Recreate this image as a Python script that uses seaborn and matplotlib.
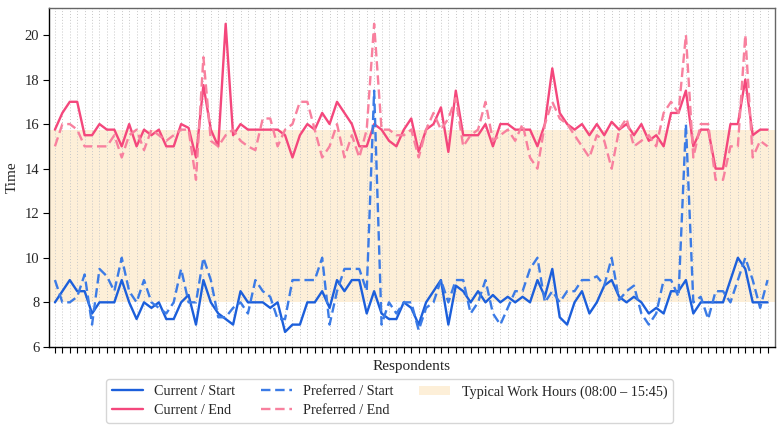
import numpy as np
import pandas as pd
import matplotlib
matplotlib.use("Agg")
import matplotlib.pyplot as plt
from matplotlib.patches import Patch
from matplotlib.lines import Line2D
import seaborn as sns

# Start / end times (hours) per respondent
current_start = [8, 8.5, 9, 8.5, 8.5, 7.5, 8, 8, 8, 9, 8, 7.25, 8, 7.75, 8, 7.25, 7.25, 8, 8.33, 7, 9, 8, 7.5, 7.25,
                 7.0, 8.5, 8, 8, 8, 7.75, 8, 6.67, 7, 7, 8, 8, 8.5, 7.75, 9, 8.5, 9, 9, 7.5, 8.5, 7.5, 7.25, 7.25, 8, 7.75,
                 7.0, 8, 8.5, 9, 7, 8.75, 8.5, 8, 8.5, 8, 8.33, 8, 8.25, 8, 8.25, 8, 9, 8.25, 9.5, 7.33, 7, 8, 8.5, 7.5, 8,
                 8.75, 9, 8.25, 8, 8.25, 8, 7.5, 7.75, 7.5, 8.5, 8.5, 9, 7.5, 8, 8, 8, 8, 9, 10, 9.5, 8, 8, 8]
preferred_start = [9, 8, 8, 8.25, 9.25, 7, 9.5, 9.17, 8.5, 10, 8.5, 8, 9, 8, 7.75, 7.5, 8, 9.5, 8, 8, 10, 9, 7.33, 7.33,
                   7.75, 8, 7.5, 9, 8.5, 8.25, 7.25, 7.25, 9, 9, 9, 9, 10, 7, 8.5, 9.5, 9.5, 9.5, 8.5, 17.5, 7, 8, 7.5, 8, 8,
                   6.75, 7.75, 8, 9, 8, 9, 9, 7.5, 8, 9, 7.5, 7, 7.75, 8.5, 8.5, 9.5, 10, 8, 8.5, 8, 8.5, 8.5, 9, 9, 9.17,
                   8.75, 10, 8.1, 8.5, 8.75, 7.5, 7, 7.5, 9, 9, 8.25, 16, 8, 8.25, 7.25, 8.5, 8.5, 8, 9, 10, 9, 7.75, 9]
current_end = [15.75, 16.5, 17, 17, 15.5, 15.5, 16, 15.75, 15.75, 15, 16, 15, 15.75, 15.5, 15.75, 15, 15, 16, 15.83, 14.5,
               17.75, 15.75, 15, 20.5,
               15.5, 16, 15.75, 15.75, 15.75, 15.75, 15.75, 15.5, 14.5, 15.5, 16, 15.75, 16.5, 16, 17, 16.5, 16, 15, 15, 16,
               15.75, 15.25, 15, 15.75, 16.25,
               14.75, 15.75, 16, 16.75, 14.75, 17.5, 15.5, 15.5, 15.5, 16, 15, 16, 16, 15.75, 15.75, 15.75, 15, 16, 18.5,
               16.5, 16, 15.75, 16, 15.5, 16,
               15.5, 16.1, 15.75, 16, 15.5, 16, 15.25, 15.5, 15, 16.5, 16.5, 17.5, 15, 15.75, 15.75, 14, 14, 16, 16, 18,
               15.5, 15.75, 15.75]
preferred_end = [15, 16, 16, 15.75, 15, 15, 15, 15, 15.5, 14.5, 15.5, 15.75, 14.83, 15.75, 15.5, 15.25, 15.5, 15.75, 15.75,
                 13.5, 19, 15.25, 15, 15.5,
                 15.75, 15.25, 15, 14.83, 16.25, 16.25, 15, 15.75, 16, 17, 17, 15.75, 14.5, 15, 16, 14.5, 15.5, 14.5, 15.75,
                 20.5, 15.75, 15.75, 15.5, 15.5, 15.75,
                 14.5, 15.75, 16.5, 15.75, 16.25, 17.17, 15, 15.5, 15.75, 17, 15.25, 15.5, 15.75, 15.25, 16, 14.5, 14, 16,
                 17, 16.25, 16, 15.5, 15, 14.5, 15.5,
                 15.25, 14, 15.75, 16.25, 15, 15.25, 15.5, 15, 16.5, 17, 16.5, 20, 14.5, 16, 16, 13.5, 13.5, 15, 15, 20,
                 14.5, 15.25, 15]

work_start, work_end = 8.0, 15.75

n = len(current_start)
respondents = np.arange(n)
df = pd.DataFrame({
    "Respondent": np.tile(respondents, 4),
    "Time": current_start + current_end + preferred_start + preferred_end,
    "Series": (["Current / Start"] * n + ["Current / End"] * n
               + ["Preferred / Start"] * n + ["Preferred / End"] * n),
})

sns.set_style("white")
plt.rcParams["font.family"] = ["Liberation Serif", "DejaVu Serif"]

colors = {
    "Current / Start": "#1c5fdb",
    "Current / End": "#f4477c",
    "Preferred / Start": "#3b7be6",
    "Preferred / End": "#f8809e",
}
dashed = {"Current / Start": False, "Current / End": False,
          "Preferred / Start": True, "Preferred / End": True}
dash = (0, (4, 2))

fig = plt.figure(figsize=(7.84, 4.32), dpi=100)
ax = fig.add_axes([0.0625, 0.197, 0.926, 0.784])

ax.axhspan(work_start, work_end, color="#fdefd8", zorder=0, lw=0)

for name in ["Current / Start", "Current / End", "Preferred / Start", "Preferred / End"]:
    sub = df[df["Series"] == name]
    sns.lineplot(data=sub, x="Respondent", y="Time", ax=ax, color=colors[name],
                 linewidth=1.7, linestyle=dash if dashed[name] else "-",
                 legend=False, zorder=3)

ax.set_xlim(-0.8, n - 1 + 1.0)
ax.set_ylim(6, 21.2)
ax.set_xticks(respondents)
ax.set_xticklabels([])
ax.set_yticks(np.arange(6, 21, 2))
ax.tick_params(axis="x", length=4, width=0.8, color="black", bottom=True)
ax.tick_params(axis="y", length=4, width=0.8, color="black", left=True, labelsize=10.5, pad=3)
ax.grid(axis="x", color="#c8c8c8", linestyle=(0, (1, 2)), linewidth=0.7)
ax.set_axisbelow(True)

for side in ["left", "bottom"]:
    ax.spines[side].set_color("black")
    ax.spines[side].set_linewidth(1.0)
for side in ["top", "right"]:
    ax.spines[side].set_color("#666666")
    ax.spines[side].set_linewidth(1.0)

ax.set_xlabel("Respondents", fontsize=11, labelpad=2)
ax.set_ylabel("Time", fontsize=11, labelpad=4)

handles = [
    Line2D([], [], color=colors["Current / Start"], lw=1.7),
    Line2D([], [], color=colors["Current / End"], lw=1.7),
    Line2D([], [], color=colors["Preferred / Start"], lw=1.7, linestyle=dash),
    Line2D([], [], color=colors["Preferred / End"], lw=1.7, linestyle=dash),
    Patch(facecolor="#fdefd8", edgecolor="none"),
]
labels = ["Current / Start", "Current / End", "Preferred / Start", "Preferred / End",
          "Typical Work Hours (08:00 – 15:45)"]
leg = fig.legend(handles, labels, loc="lower center", bbox_to_anchor=(0.497, 0.005), ncol=3,
                 fontsize=10.2, frameon=True, columnspacing=1.8, handlelength=2.2,
                 borderpad=0.4, labelspacing=0.4, handletextpad=0.8)
leg.get_frame().set_edgecolor("#cccccc")

fig.savefig("out.png", dpi=100)
